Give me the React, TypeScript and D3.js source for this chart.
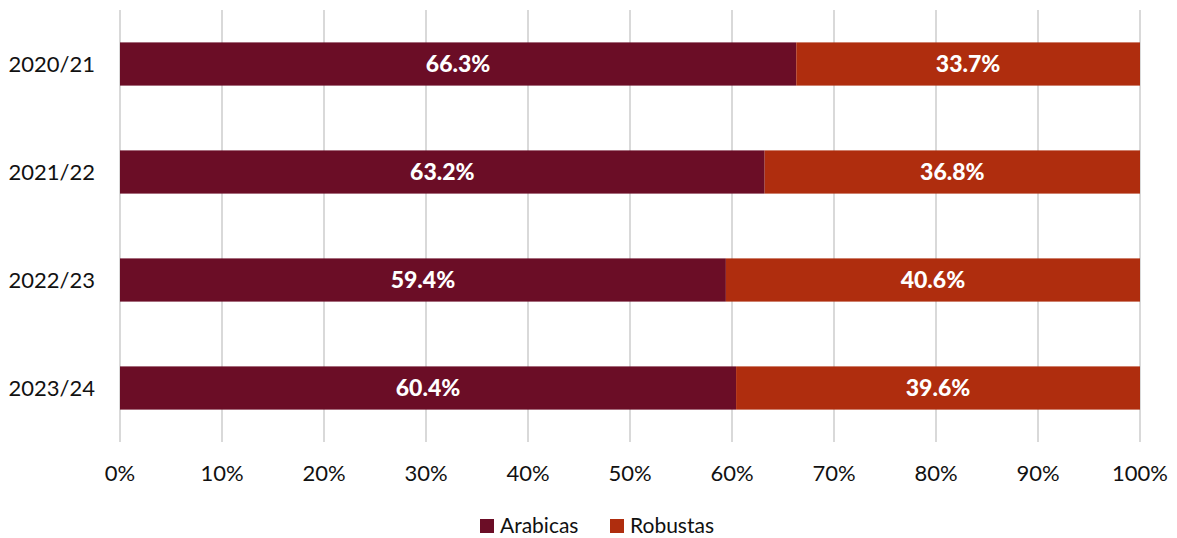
import React from 'react';
import * as d3 from 'd3';

const seasons = ['2020/21', '2021/22', '2022/23', '2023/24'];
const arabicas = [66.3, 63.2, 59.4, 60.4];
const robustas = [33.7, 36.8, 40.6, 39.6];
const xTicks = [0, 10, 20, 30, 40, 50, 60, 70, 80, 90, 100];

const seriesNames = ['Arabicas', 'Robustas'];
const seriesColors = ['#6b0d26', '#af2d0e'];

const width = 1177;
const height = 538;
const font = 'Lato, "Open Sans", sans-serif';

const App = () => {
  const x = d3.scaleLinear().domain([0, 100]).range([120, 1140]);
  const y = d3.scaleBand<string>().domain(seasons).range([10, 442]).paddingInner(0.6).paddingOuter(0.3);

  const rows = seasons.map((s, i) => ({ season: s, values: [arabicas[i], robustas[i]] }));

  return (
    <svg width={width} height={height} style={{ display: 'block', position: 'absolute', left: 0, top: 0 }}>
      <rect width={width} height={height} fill="#fff" />
      {/* vertical grid */}
      {xTicks.map(t => (
        <line key={t} x1={x(t)} x2={x(t)} y1={10} y2={442} stroke="#d9d9d9" strokeWidth={2} />
      ))}
      {rows.map(r => {
        let acc = 0;
        return (
          <g key={r.season}>
            {r.values.map((v, j) => {
              const x0 = x(acc);
              acc += v;
              const x1 = x(acc);
              return (
                <g key={j}>
                  <rect x={x0} y={y(r.season)} width={x1 - x0} height={y.bandwidth()} fill={seriesColors[j]} />
                  <text x={(x0 + x1) / 2} y={y(r.season)! + y.bandwidth() / 2} dy="0.35em" textAnchor="middle"
                    fill="#fff" fontFamily={font} fontWeight="900" fontSize={23}>{v.toFixed(1)}%</text>
                </g>
              );
            })}
            <text x={95} y={y(r.season)! + y.bandwidth() / 2} dy="0.35em" textAnchor="end"
              fontFamily={font} fontSize={22} fill="#111">{r.season}</text>
          </g>
        );
      })}
      {xTicks.map(t => (
        <text key={t} x={x(t)} y={473} dy="0.35em" textAnchor="middle" fontFamily={font} fontSize={22} fill="#111">{t}%</text>
      ))}
      {/* legend */}
      {seriesNames.map((n, i) => {
        const lx = i === 0 ? 480 : 610;
        return (
          <g key={n}>
            <rect x={lx} y={519} width={14} height={14} fill={seriesColors[i]} />
            <text x={lx + 20} y={526} dy="0.35em" fontFamily={font} fontSize={21} fill="#111">{n}</text>
          </g>
        );
      })}
    </svg>
  );
};

export default App;
